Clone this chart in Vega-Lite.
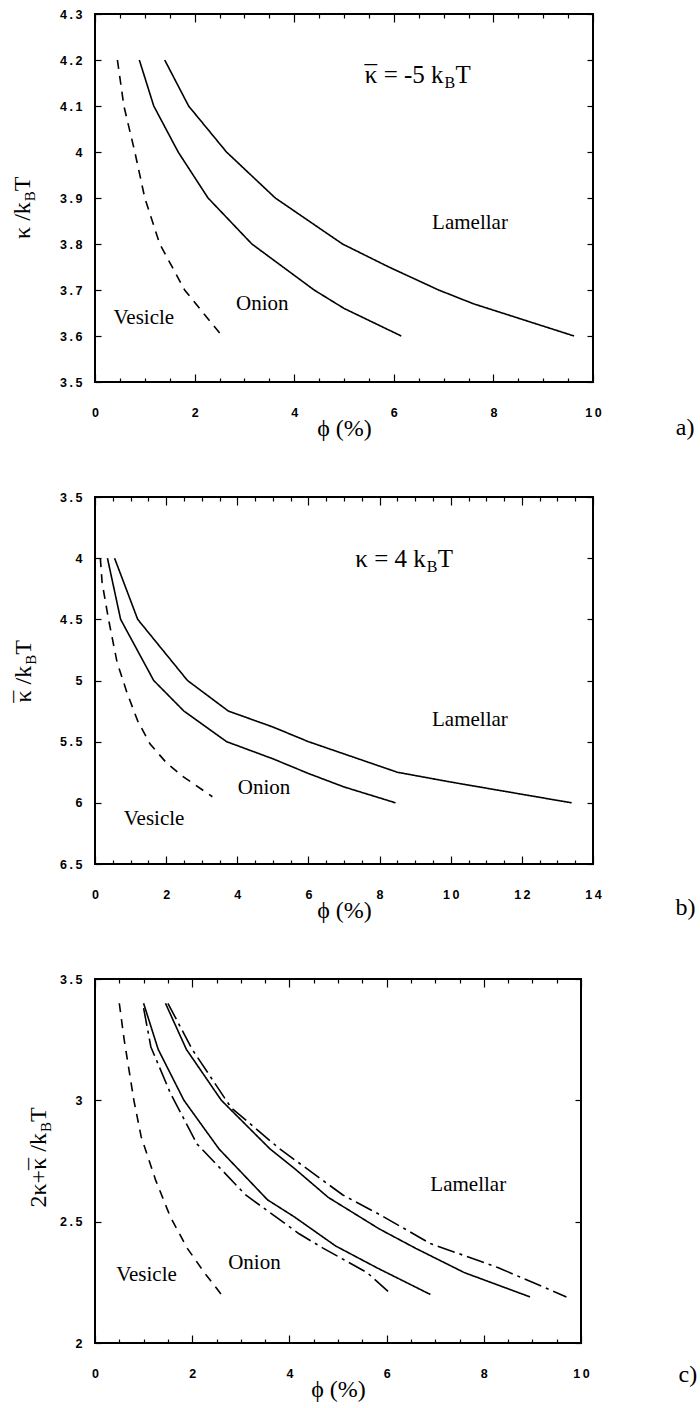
{
  "$schema": "https://vega.github.io/schema/vega-lite/v6.json",
  "background": "white",
  "padding": {"left": 9, "top": 7, "right": 5, "bottom": 2},
  "spacing": 115,
  "bounds": "flush",
  "datasets": {
    "a_curves": [
      {"curve": "a1", "style": "dashed", "x": 0.45, "y": 4.2},
      {"curve": "a1", "style": "dashed", "x": 0.58, "y": 4.1},
      {"curve": "a1", "style": "dashed", "x": 0.8, "y": 4.0},
      {"curve": "a1", "style": "dashed", "x": 1.0, "y": 3.9},
      {"curve": "a1", "style": "dashed", "x": 1.3, "y": 3.8},
      {"curve": "a1", "style": "dashed", "x": 1.8, "y": 3.7},
      {"curve": "a1", "style": "dashed", "x": 2.55, "y": 3.6},
      {"curve": "a2", "style": "solid", "x": 0.89, "y": 4.2},
      {"curve": "a2", "style": "solid", "x": 1.18, "y": 4.1},
      {"curve": "a2", "style": "solid", "x": 1.67, "y": 4.0},
      {"curve": "a2", "style": "solid", "x": 2.27, "y": 3.9},
      {"curve": "a2", "style": "solid", "x": 3.15, "y": 3.8},
      {"curve": "a2", "style": "solid", "x": 4.4, "y": 3.7},
      {"curve": "a2", "style": "solid", "x": 5.0, "y": 3.66},
      {"curve": "a2", "style": "solid", "x": 6.15, "y": 3.6},
      {"curve": "a3", "style": "solid", "x": 1.4, "y": 4.2},
      {"curve": "a3", "style": "solid", "x": 1.88, "y": 4.1},
      {"curve": "a3", "style": "solid", "x": 2.64, "y": 4.0},
      {"curve": "a3", "style": "solid", "x": 3.62, "y": 3.9},
      {"curve": "a3", "style": "solid", "x": 4.97, "y": 3.8},
      {"curve": "a3", "style": "solid", "x": 5.9, "y": 3.75},
      {"curve": "a3", "style": "solid", "x": 6.9, "y": 3.7},
      {"curve": "a3", "style": "solid", "x": 7.6, "y": 3.67},
      {"curve": "a3", "style": "solid", "x": 9.62, "y": 3.6}
    ],
    "a_text": [
      {"part": "label", "x": 7.53, "y": 3.846, "text": "Lamellar"},
      {"part": "label", "x": 3.36, "y": 3.67, "text": "Onion"},
      {"part": "label", "x": 0.98, "y": 3.64, "text": "Vesicle"},
      {"part": "tag", "x": 11.85, "y": 3.4, "text": "a)"},
      {"part": "ann", "x": 7.0, "y": 4.15, "text": "κ = -5 k"},
      {"part": "annbar", "x": 7.0, "y": 4.15, "text": "¯"},
      {"part": "annsub", "x": 7.0, "y": 4.15, "text": "B"},
      {"part": "annT", "x": 7.0, "y": 4.15, "text": "T"},
      {"part": "yt", "x": -1.31, "y": 3.891, "text": "κ /k"},
      {"part": "ytsub", "x": -1.31, "y": 3.891, "text": "B"},
      {"part": "ytT", "x": -1.31, "y": 3.891, "text": "T"}
    ],
    "b_curves": [
      {"curve": "b1", "style": "dashed", "x": 0.15, "y": 4.0},
      {"curve": "b1", "style": "dashed", "x": 0.2, "y": 4.2},
      {"curve": "b1", "style": "dashed", "x": 0.38, "y": 4.5},
      {"curve": "b1", "style": "dashed", "x": 0.62, "y": 4.85},
      {"curve": "b1", "style": "dashed", "x": 0.9, "y": 5.1},
      {"curve": "b1", "style": "dashed", "x": 1.2, "y": 5.33},
      {"curve": "b1", "style": "dashed", "x": 1.55, "y": 5.52},
      {"curve": "b1", "style": "dashed", "x": 2.0, "y": 5.67},
      {"curve": "b1", "style": "dashed", "x": 2.45, "y": 5.78},
      {"curve": "b1", "style": "dashed", "x": 3.3, "y": 5.95},
      {"curve": "b2", "style": "solid", "x": 0.35, "y": 4.0},
      {"curve": "b2", "style": "solid", "x": 0.72, "y": 4.5},
      {"curve": "b2", "style": "solid", "x": 1.65, "y": 5.0},
      {"curve": "b2", "style": "solid", "x": 2.5, "y": 5.25},
      {"curve": "b2", "style": "solid", "x": 3.7, "y": 5.5},
      {"curve": "b2", "style": "solid", "x": 5.0, "y": 5.64},
      {"curve": "b2", "style": "solid", "x": 6.0, "y": 5.76},
      {"curve": "b2", "style": "solid", "x": 7.0, "y": 5.87},
      {"curve": "b2", "style": "solid", "x": 8.45, "y": 6.0},
      {"curve": "b3", "style": "solid", "x": 0.55, "y": 4.0},
      {"curve": "b3", "style": "solid", "x": 1.2, "y": 4.5},
      {"curve": "b3", "style": "solid", "x": 1.9, "y": 4.75},
      {"curve": "b3", "style": "solid", "x": 2.6, "y": 5.0},
      {"curve": "b3", "style": "solid", "x": 3.75, "y": 5.25},
      {"curve": "b3", "style": "solid", "x": 5.0, "y": 5.38},
      {"curve": "b3", "style": "solid", "x": 6.0, "y": 5.5},
      {"curve": "b3", "style": "solid", "x": 7.0, "y": 5.6},
      {"curve": "b3", "style": "solid", "x": 8.0, "y": 5.7},
      {"curve": "b3", "style": "solid", "x": 8.5, "y": 5.75},
      {"curve": "b3", "style": "solid", "x": 10.0, "y": 5.83},
      {"curve": "b3", "style": "solid", "x": 12.0, "y": 5.93},
      {"curve": "b3", "style": "solid", "x": 13.4, "y": 6.0}
    ],
    "b_text": [
      {"part": "label", "x": 10.54, "y": 5.32, "text": "Lamellar"},
      {"part": "label", "x": 4.75, "y": 5.88, "text": "Onion"},
      {"part": "label", "x": 1.66, "y": 6.13, "text": "Vesicle"},
      {"part": "tag", "x": 16.6, "y": 6.86, "text": "b)"},
      {"part": "ann", "x": 9.3, "y": 4.07, "text": "κ = 4 k"},
      {"part": "annsub", "x": 9.3, "y": 4.07, "text": "B"},
      {"part": "annT", "x": 9.3, "y": 4.07, "text": "T"},
      {"part": "yt", "x": -1.8, "y": 4.88, "text": "κ /k"},
      {"part": "ytbar", "x": -1.8, "y": 4.88, "text": "¯"},
      {"part": "ytsub", "x": -1.8, "y": 4.88, "text": "B"},
      {"part": "ytT", "x": -1.8, "y": 4.88, "text": "T"}
    ],
    "c_curves": [
      {"curve": "c1", "style": "dashed", "x": 0.5, "y": 3.4},
      {"curve": "c1", "style": "dashed", "x": 0.6, "y": 3.25},
      {"curve": "c1", "style": "dashed", "x": 0.72, "y": 3.1},
      {"curve": "c1", "style": "dashed", "x": 0.8, "y": 3.0},
      {"curve": "c1", "style": "dashed", "x": 0.95, "y": 2.85},
      {"curve": "c1", "style": "dashed", "x": 1.25, "y": 2.67},
      {"curve": "c1", "style": "dashed", "x": 1.55, "y": 2.52},
      {"curve": "c1", "style": "dashed", "x": 1.9, "y": 2.39},
      {"curve": "c1", "style": "dashed", "x": 2.25, "y": 2.29},
      {"curve": "c1", "style": "dashed", "x": 2.6, "y": 2.2},
      {"curve": "c2", "style": "solid", "x": 1.0, "y": 3.4},
      {"curve": "c2", "style": "solid", "x": 1.3, "y": 3.21},
      {"curve": "c2", "style": "solid", "x": 1.83, "y": 3.0},
      {"curve": "c2", "style": "solid", "x": 2.55, "y": 2.8},
      {"curve": "c2", "style": "solid", "x": 3.55, "y": 2.59},
      {"curve": "c2", "style": "solid", "x": 4.1, "y": 2.52},
      {"curve": "c2", "style": "solid", "x": 4.95, "y": 2.4},
      {"curve": "c2", "style": "solid", "x": 5.8, "y": 2.31},
      {"curve": "c2", "style": "solid", "x": 6.9, "y": 2.2},
      {"curve": "c3", "style": "dashdot", "x": 1.0, "y": 3.38},
      {"curve": "c3", "style": "dashdot", "x": 1.15, "y": 3.22},
      {"curve": "c3", "style": "dashdot", "x": 1.55, "y": 3.03},
      {"curve": "c3", "style": "dashdot", "x": 2.1, "y": 2.82},
      {"curve": "c3", "style": "dashdot", "x": 3.1, "y": 2.61},
      {"curve": "c3", "style": "dashdot", "x": 4.2, "y": 2.45},
      {"curve": "c3", "style": "dashdot", "x": 4.7, "y": 2.39},
      {"curve": "c3", "style": "dashdot", "x": 5.6, "y": 2.29},
      {"curve": "c3", "style": "dashdot", "x": 6.1, "y": 2.2},
      {"curve": "c4", "style": "solid", "x": 1.45, "y": 3.4},
      {"curve": "c4", "style": "solid", "x": 1.88, "y": 3.21},
      {"curve": "c4", "style": "solid", "x": 2.6, "y": 3.0},
      {"curve": "c4", "style": "solid", "x": 3.6, "y": 2.8},
      {"curve": "c4", "style": "solid", "x": 4.1, "y": 2.72},
      {"curve": "c4", "style": "solid", "x": 4.8, "y": 2.6},
      {"curve": "c4", "style": "solid", "x": 5.85, "y": 2.47},
      {"curve": "c4", "style": "solid", "x": 6.6, "y": 2.39},
      {"curve": "c4", "style": "solid", "x": 7.6, "y": 2.29},
      {"curve": "c4", "style": "solid", "x": 8.95, "y": 2.19},
      {"curve": "c5", "style": "dashdot", "x": 1.5, "y": 3.4},
      {"curve": "c5", "style": "dashdot", "x": 2.0, "y": 3.21},
      {"curve": "c5", "style": "dashdot", "x": 2.8, "y": 2.97},
      {"curve": "c5", "style": "dashdot", "x": 3.8, "y": 2.8},
      {"curve": "c5", "style": "dashdot", "x": 5.1, "y": 2.61},
      {"curve": "c5", "style": "dashdot", "x": 5.85, "y": 2.53},
      {"curve": "c5", "style": "dashdot", "x": 6.9, "y": 2.41},
      {"curve": "c5", "style": "dashdot", "x": 8.3, "y": 2.31},
      {"curve": "c5", "style": "dashdot", "x": 9.7, "y": 2.19}
    ],
    "c_text": [
      {"part": "label", "x": 7.68, "y": 2.65, "text": "Lamellar"},
      {"part": "label", "x": 3.28, "y": 2.33, "text": "Onion"},
      {"part": "label", "x": 1.06, "y": 2.28, "text": "Vesicle"},
      {"part": "tag", "x": 12.2, "y": 1.87, "text": "c)"},
      {"part": "yt", "x": -1.0, "y": 2.865, "text": "2κ+κ /k"},
      {"part": "ytbar", "x": -1.0, "y": 2.865, "text": "¯"},
      {"part": "ytsub", "x": -1.0, "y": 2.865, "text": "B"},
      {"part": "ytT", "x": -1.0, "y": 2.865, "text": "T"}
    ]
  },
  "vconcat": [
    {
      "width": 498, "height": 368,
      "layer": [
        {
          "encoding": {
            "x": {"field": "x", "type": "quantitative", "scale": {"domain": [0, 10], "nice": false, "zero": false},
              "axis": {"orient": "bottom", "values": [0,0.5,1,1.5,2,2.5,3,3.5,4,4.5,5,5.5,6,6.5,7,7.5,8,8.5,9,9.5,10], "title": "ϕ (%)", "titlePadding": -6, "labelPadding": 32,
                "tickSize": {"condition": {"test": "datum.value % 2 === 0", "value": -8}, "value": -4},
                "labelExpr": "datum.value % 2 === 0 ? join(split(format(datum.value, '~g'), ''), '\u2009') : ''"}},
            "y": {"field": "y", "type": "quantitative", "scale": {"domain": [3.5, 4.3], "nice": false, "zero": false},
              "axis": {"orient": "left", "values": [3.5,3.6,3.7,3.8,3.9,4,4.1,4.2,4.3], "title": null, "tickSize": -6, "labelPadding": 19,
                "labelExpr": "join(split(format(datum.value, '~g'), ''), '\u2009')"}}
          },
          "layer": [
            {"data": {"name": "a_curves"}, "mark": {"type": "line", "color": "black", "strokeWidth": 1.6},
              "encoding": {"detail": {"field": "curve", "type": "nominal"},
                "strokeDash": {"field": "style", "type": "nominal", "scale": {"domain": ["solid", "dashed", "dashdot"], "range": [[1, 0], [9, 7], [18, 5, 3, 5]]}, "legend": null}}},
            {"data": {"name": "a_text"}, "transform": [{"filter": "datum.part === 'label'"}], "mark": {"type": "text", "fontSize": 21, "align": "center", "baseline": "middle"}, "encoding": {"text": {"field": "text"}}},
            {"data": {"name": "a_text"}, "transform": [{"filter": "datum.part === 'tag'"}], "mark": {"type": "text", "fontSize": 24, "align": "center", "baseline": "middle"}, "encoding": {"text": {"field": "text"}}},
            {"data": {"name": "a_text"}, "transform": [{"filter": "datum.part === 'ann'"}], "mark": {"type": "text", "fontSize": 25, "align": "right", "baseline": "alphabetic"}, "encoding": {"text": {"field": "text"}}},
            {"data": {"name": "a_text"}, "transform": [{"filter": "datum.part === 'annbar'"}], "mark": {"type": "text", "fontSize": 25, "align": "left", "baseline": "alphabetic", "dx": -79}, "encoding": {"text": {"field": "text"}}},
            {"data": {"name": "a_text"}, "transform": [{"filter": "datum.part === 'annsub'"}], "mark": {"type": "text", "fontSize": 16, "align": "left", "baseline": "alphabetic", "dx": 1, "dy": 5}, "encoding": {"text": {"field": "text"}}},
            {"data": {"name": "a_text"}, "transform": [{"filter": "datum.part === 'annT'"}], "mark": {"type": "text", "fontSize": 25, "align": "left", "baseline": "alphabetic", "dx": 12}, "encoding": {"text": {"field": "text"}}},
            {"data": {"name": "a_text"}, "transform": [{"filter": "datum.part === 'yt'"}], "mark": {"type": "text", "fontSize": 24, "align": "right", "baseline": "alphabetic", "angle": 270}, "encoding": {"text": {"field": "text"}}},
            {"data": {"name": "a_text"}, "transform": [{"filter": "datum.part === 'ytsub'"}], "mark": {"type": "text", "fontSize": 15, "align": "left", "baseline": "alphabetic", "angle": 270, "dx": 1, "dy": 5}, "encoding": {"text": {"field": "text"}}},
            {"data": {"name": "a_text"}, "transform": [{"filter": "datum.part === 'ytT'"}], "mark": {"type": "text", "fontSize": 24, "align": "left", "baseline": "alphabetic", "angle": 270, "dx": 11}, "encoding": {"text": {"field": "text"}}}
          ]
        },
        {
          "data": {"name": "a_curves"},
          "mark": {"type": "point", "opacity": 0},
          "encoding": {
            "x": {"field": "x", "type": "quantitative", "scale": {"domain": [0, 10], "nice": false, "zero": false},
              "axis": {"orient": "top", "values": [0,0.5,1,1.5,2,2.5,3,3.5,4,4.5,5,5.5,6,6.5,7,7.5,8,8.5,9,9.5,10], "title": null, "labels": false,
                "tickSize": {"condition": {"test": "datum.value % 2 === 0", "value": -8}, "value": -4}}},
            "y": {"field": "y", "type": "quantitative", "scale": {"domain": [3.5, 4.3], "nice": false, "zero": false},
              "axis": {"orient": "right", "values": [3.5,3.6,3.7,3.8,3.9,4,4.1,4.2,4.3], "title": null, "labels": false, "tickSize": -6}}
          }
        }
      ],
      "resolve": {"scale": {"x": "independent", "y": "independent"}}
    },
    {
      "width": 498, "height": 367,
      "layer": [
        {
          "encoding": {
            "x": {"field": "x", "type": "quantitative", "scale": {"domain": [0, 14], "nice": false, "zero": false},
              "axis": {"orient": "bottom", "values": [0,0.5,1,1.5,2,2.5,3,3.5,4,4.5,5,5.5,6,6.5,7,7.5,8,8.5,9,9.5,10,10.5,11,11.5,12,12.5,13,13.5,14], "title": "ϕ (%)", "titlePadding": -6, "labelPadding": 32,
                "tickSize": {"condition": {"test": "datum.value % 2 === 0", "value": -8}, "value": -4},
                "labelExpr": "datum.value % 2 === 0 ? join(split(format(datum.value, '~g'), ''), '\u2009') : ''"}},
            "y": {"field": "y", "type": "quantitative", "scale": {"domain": [3.5, 6.5], "nice": false, "zero": false, "reverse": true},
              "axis": {"orient": "left", "values": [3.5,4,4.5,5,5.5,6,6.5], "title": null, "tickSize": -6, "labelPadding": 19,
                "labelExpr": "join(split(format(datum.value, '~g'), ''), '\u2009')"}}
          },
          "layer": [
            {"data": {"name": "b_curves"}, "mark": {"type": "line", "color": "black", "strokeWidth": 1.6},
              "encoding": {"detail": {"field": "curve", "type": "nominal"},
                "strokeDash": {"field": "style", "type": "nominal", "scale": {"domain": ["solid", "dashed", "dashdot"], "range": [[1, 0], [9, 7], [18, 5, 3, 5]]}, "legend": null}}},
            {"data": {"name": "b_text"}, "transform": [{"filter": "datum.part === 'label'"}], "mark": {"type": "text", "fontSize": 21, "align": "center", "baseline": "middle"}, "encoding": {"text": {"field": "text"}}},
            {"data": {"name": "b_text"}, "transform": [{"filter": "datum.part === 'tag'"}], "mark": {"type": "text", "fontSize": 24, "align": "center", "baseline": "middle"}, "encoding": {"text": {"field": "text"}}},
            {"data": {"name": "b_text"}, "transform": [{"filter": "datum.part === 'ann'"}], "mark": {"type": "text", "fontSize": 25, "align": "right", "baseline": "alphabetic"}, "encoding": {"text": {"field": "text"}}},
            {"data": {"name": "b_text"}, "transform": [{"filter": "datum.part === 'annsub'"}], "mark": {"type": "text", "fontSize": 16, "align": "left", "baseline": "alphabetic", "dx": 1, "dy": 5}, "encoding": {"text": {"field": "text"}}},
            {"data": {"name": "b_text"}, "transform": [{"filter": "datum.part === 'annT'"}], "mark": {"type": "text", "fontSize": 25, "align": "left", "baseline": "alphabetic", "dx": 12}, "encoding": {"text": {"field": "text"}}},
            {"data": {"name": "b_text"}, "transform": [{"filter": "datum.part === 'yt'"}], "mark": {"type": "text", "fontSize": 24, "align": "right", "baseline": "alphabetic", "angle": 270}, "encoding": {"text": {"field": "text"}}},
            {"data": {"name": "b_text"}, "transform": [{"filter": "datum.part === 'ytbar'"}], "mark": {"type": "text", "fontSize": 24, "align": "left", "baseline": "alphabetic", "angle": 270, "dx": -37}, "encoding": {"text": {"field": "text"}}},
            {"data": {"name": "b_text"}, "transform": [{"filter": "datum.part === 'ytsub'"}], "mark": {"type": "text", "fontSize": 15, "align": "left", "baseline": "alphabetic", "angle": 270, "dx": 1, "dy": 5}, "encoding": {"text": {"field": "text"}}},
            {"data": {"name": "b_text"}, "transform": [{"filter": "datum.part === 'ytT'"}], "mark": {"type": "text", "fontSize": 24, "align": "left", "baseline": "alphabetic", "angle": 270, "dx": 11}, "encoding": {"text": {"field": "text"}}}
          ]
        },
        {
          "data": {"name": "b_curves"},
          "mark": {"type": "point", "opacity": 0},
          "encoding": {
            "x": {"field": "x", "type": "quantitative", "scale": {"domain": [0, 14], "nice": false, "zero": false},
              "axis": {"orient": "top", "values": [0,0.5,1,1.5,2,2.5,3,3.5,4,4.5,5,5.5,6,6.5,7,7.5,8,8.5,9,9.5,10,10.5,11,11.5,12,12.5,13,13.5,14], "title": null, "labels": false,
                "tickSize": {"condition": {"test": "datum.value % 2 === 0", "value": -8}, "value": -4}}},
            "y": {"field": "y", "type": "quantitative", "scale": {"domain": [3.5, 6.5], "nice": false, "zero": false, "reverse": true},
              "axis": {"orient": "right", "values": [3.5,4,4.5,5,5.5,6,6.5], "title": null, "labels": false, "tickSize": -6}}
          }
        }
      ],
      "resolve": {"scale": {"x": "independent", "y": "independent"}}
    },
    {
      "width": 486, "height": 364,
      "layer": [
        {
          "encoding": {
            "x": {"field": "x", "type": "quantitative", "scale": {"domain": [0, 10], "nice": false, "zero": false},
              "axis": {"orient": "bottom", "values": [0,0.5,1,1.5,2,2.5,3,3.5,4,4.5,5,5.5,6,6.5,7,7.5,8,8.5,9,9.5,10], "title": "ϕ (%)", "titlePadding": -6, "labelPadding": 32,
                "tickSize": {"condition": {"test": "datum.value % 2 === 0", "value": -8}, "value": -4},
                "labelExpr": "datum.value % 2 === 0 ? join(split(format(datum.value, '~g'), ''), '\u2009') : ''"}},
            "y": {"field": "y", "type": "quantitative", "scale": {"domain": [2, 3.5], "nice": false, "zero": false},
              "axis": {"orient": "left", "values": [2,2.5,3,3.5], "title": null, "tickSize": -6, "labelPadding": 19,
                "labelExpr": "join(split(format(datum.value, '~g'), ''), '\u2009')"}}
          },
          "layer": [
            {"data": {"name": "c_curves"}, "mark": {"type": "line", "color": "black", "strokeWidth": 1.6},
              "encoding": {"detail": {"field": "curve", "type": "nominal"},
                "strokeDash": {"field": "style", "type": "nominal", "scale": {"domain": ["solid", "dashed", "dashdot"], "range": [[1, 0], [9, 7], [18, 5, 3, 5]]}, "legend": null}}},
            {"data": {"name": "c_text"}, "transform": [{"filter": "datum.part === 'label'"}], "mark": {"type": "text", "fontSize": 21, "align": "center", "baseline": "middle"}, "encoding": {"text": {"field": "text"}}},
            {"data": {"name": "c_text"}, "transform": [{"filter": "datum.part === 'tag'"}], "mark": {"type": "text", "fontSize": 24, "align": "center", "baseline": "middle"}, "encoding": {"text": {"field": "text"}}},
            {"data": {"name": "c_text"}, "transform": [{"filter": "datum.part === 'yt'"}], "mark": {"type": "text", "fontSize": 24, "align": "right", "baseline": "alphabetic", "angle": 270}, "encoding": {"text": {"field": "text"}}},
            {"data": {"name": "c_text"}, "transform": [{"filter": "datum.part === 'ytbar'"}], "mark": {"type": "text", "fontSize": 24, "align": "left", "baseline": "alphabetic", "angle": 270, "dx": -37}, "encoding": {"text": {"field": "text"}}},
            {"data": {"name": "c_text"}, "transform": [{"filter": "datum.part === 'ytsub'"}], "mark": {"type": "text", "fontSize": 15, "align": "left", "baseline": "alphabetic", "angle": 270, "dx": 1, "dy": 5}, "encoding": {"text": {"field": "text"}}},
            {"data": {"name": "c_text"}, "transform": [{"filter": "datum.part === 'ytT'"}], "mark": {"type": "text", "fontSize": 24, "align": "left", "baseline": "alphabetic", "angle": 270, "dx": 11}, "encoding": {"text": {"field": "text"}}}
          ]
        },
        {
          "data": {"name": "c_curves"},
          "mark": {"type": "point", "opacity": 0},
          "encoding": {
            "x": {"field": "x", "type": "quantitative", "scale": {"domain": [0, 10], "nice": false, "zero": false},
              "axis": {"orient": "top", "values": [0,0.5,1,1.5,2,2.5,3,3.5,4,4.5,5,5.5,6,6.5,7,7.5,8,8.5,9,9.5,10], "title": null, "labels": false,
                "tickSize": {"condition": {"test": "datum.value % 2 === 0", "value": -8}, "value": -4}}},
            "y": {"field": "y", "type": "quantitative", "scale": {"domain": [2, 3.5], "nice": false, "zero": false},
              "axis": {"orient": "right", "values": [2,2.5,3,3.5], "title": null, "labels": false, "tickSize": -6}}
          }
        }
      ],
      "resolve": {"scale": {"x": "independent", "y": "independent"}}
    }
  ],
  "config": {
    "view": {"stroke": "black", "strokeWidth": 2},
    "axis": {"grid": false, "domain": false, "tickColor": "black", "tickWidth": 1.2, "labelColor": "black", "labelFont": "Liberation Sans", "labelFontSize": 12.5, "labelFontWeight": "bold", "labelFlush": false, "labelOverlap": false, "labelBound": false, "titleColor": "black", "titleFont": "Liberation Serif", "titleFontWeight": "normal", "titleFontSize": 24},
    "text": {"font": "Liberation Serif", "color": "black"}
  }
}
